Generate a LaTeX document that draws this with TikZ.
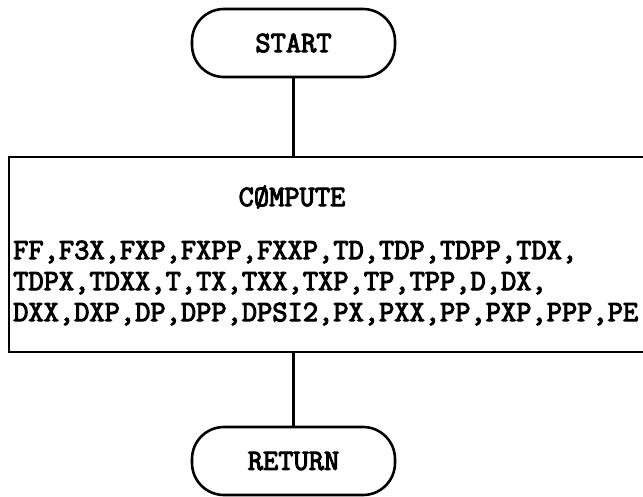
\documentclass[tikz,border=0pt]{standalone}
\usepackage{fontspec}
\setmonofont{Latin Modern Mono}[FakeBold=3.5]
\begin{document}
\begin{tikzpicture}[x=1pt,y=-1pt,
  term/.style={draw,line width=2.6pt,rounded corners=32pt,minimum width=203pt,minimum height=68pt,inner sep=0pt},
  procbox/.style={draw,line width=2.6pt,minimum width=651pt,minimum height=195pt,inner sep=0pt},
  conn/.style={line width=2.6pt},
  txt/.style={font=\ttfamily\bfseries\fontsize{29.6pt}{31pt}\selectfont,inner sep=0pt}]
\useasboundingbox (0,0) rectangle (643,496);
\clip (0,0) rectangle (643,496);
\node[term,txt] (start) at (293.5,43) {START};
\node[procbox] (box) at (334.5,254.5) {};
\node[term,txt] (ret) at (293.5,461) {RETURN};
\node[txt] (comp) at (292,197) {CØMPUTE};
\node[txt,anchor=west,align=left] (vars) at (13,283) {FF,F3X,FXP,FXPP,FXXP,TD,TDP,TDPP,TDX,\\TDPX,TDXX,T,TX,TXX,TXP,TP,TPP,D,DX,\\DXX,DXP,DP,DPP,DPSI2,PX,PXX,PP,PXP,PPP,PE};
\draw[conn] (start.south) -- (start.south |- box.north);
\draw[conn] (ret.north |- box.south) -- (ret.north);
\end{tikzpicture}
\end{document}
